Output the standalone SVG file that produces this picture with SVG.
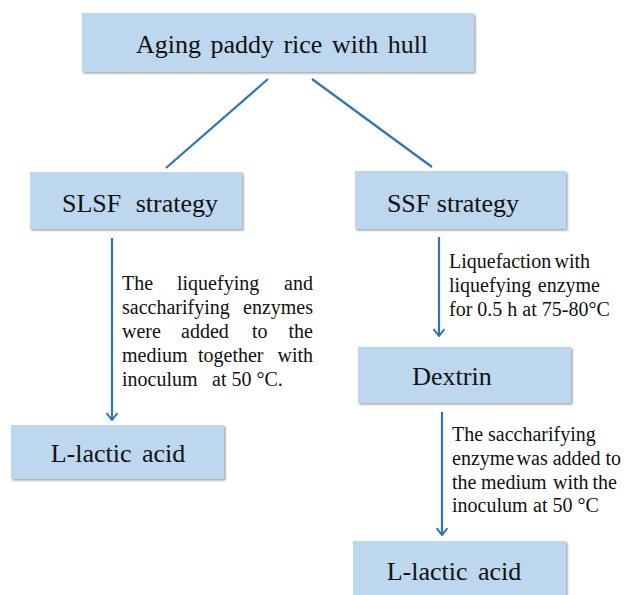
<svg xmlns="http://www.w3.org/2000/svg" width="625" height="595" viewBox="0 0 625 595">
<style>
.box{fill:#BDD7EE;filter:url(#sh)}
.nt{font-family:'Liberation Serif','Times New Roman',serif;font-size:26px;fill:#111;text-anchor:middle}
.lb{font-family:'Liberation Serif','Times New Roman',serif;font-size:20px;fill:#111}
.e{text-anchor:end}
.ln{stroke:#2E75B6;stroke-width:2.2;fill:none}
</style>
<defs>
<filter id="sh" x="-5%" y="-10%" width="110%" height="130%">
<feDropShadow dx="1.5" dy="1.5" stdDeviation="1.3" flood-color="#555" flood-opacity="0.55"/>
</filter>
<marker id="ah" viewBox="0 0 12 12" refX="11" refY="6" markerWidth="12" markerHeight="12" markerUnits="userSpaceOnUse" orient="auto">
<path d="M4,0.5 L11,6 L4,11.5" fill="none" stroke="#2E75B6" stroke-width="2"/>
</marker>
</defs>
<rect width="625" height="595" fill="#fff"/>
<g id="connectors">
<line class="ln" x1="268" y1="79" x2="166" y2="168"/>
<line class="ln" x1="312" y1="79" x2="432" y2="167"/>
<path class="ln" d="M112,238 V420" marker-end="url(#ah)"/>
<path class="ln" d="M439,237 V336" marker-end="url(#ah)"/>
<path class="ln" d="M442,412 V535" marker-end="url(#ah)"/>
</g>
<g id="top">
<rect class="box" x="82" y="13" width="392" height="59"/>
<text class="nt" x="282" y="53" word-spacing="3">Aging paddy rice with hull</text>
</g>
<g id="slsf">
<rect class="box" x="30" y="172" width="212" height="57"/>
<text class="nt" x="140" y="212" word-spacing="8">SLSF strategy</text>
</g>
<g id="ssf">
<rect class="box" x="355" y="171" width="211" height="58"/>
<text class="nt" x="453" y="212">SSF strategy</text>
</g>
<g id="dextrin">
<rect class="box" x="358" y="347" width="213" height="56"/>
<text class="nt" x="452" y="385">Dextrin</text>
</g>
<g id="lactic1">
<rect class="box" x="11" y="425" width="213" height="54"/>
<text class="nt" x="118" y="462" word-spacing="4">L-lactic acid</text>
</g>
<g id="lactic2">
<rect class="box" x="353" y="541" width="213" height="64"/>
<text class="nt" x="454" y="580" word-spacing="4">L-lactic acid</text>
</g>
<g id="label-slsf" class="lb">
<text y="290"><tspan x="122">The</tspan><tspan x="177">liquefying</tspan></text>
<text class="e" x="313" y="290">and</text>
<text x="122" y="314">saccharifying</text>
<text class="e" x="313" y="314">enzymes</text>
<text y="338"><tspan x="122">were</tspan><tspan x="181">added</tspan><tspan x="252">to</tspan></text>
<text class="e" x="313" y="338">the</text>
<text y="362"><tspan x="122">medium</tspan><tspan x="198">together</tspan></text>
<text class="e" x="313" y="362">with</text>
<text y="386"><tspan x="122">inoculum</tspan><tspan x="212">at 50 °C.</tspan></text>
</g>
<g id="label-ssf" class="lb">
<text x="449" y="268">Liquefaction</text>
<text class="e" x="590" y="268">with</text>
<text x="449" y="292">liquefying</text>
<text class="e" x="600" y="292">enzyme</text>
<text x="449" y="316">for 0.5 h at 75-80°C</text>
</g>
<g id="label-dextrin" class="lb">
<text y="441"><tspan x="452">The</tspan><tspan x="488">saccharifying</tspan></text>
<text x="452" y="465">enzyme</text>
<text class="e" x="621" y="465">was added to</text>
<text y="489"><tspan x="452">the</tspan><tspan x="481">medium</tspan><tspan x="553">with</tspan></text>
<text class="e" x="617" y="489">the</text>
<text y="512"><tspan x="452">inoculum</tspan><tspan x="533">at 50 °C</tspan></text>
</g>
</svg>
